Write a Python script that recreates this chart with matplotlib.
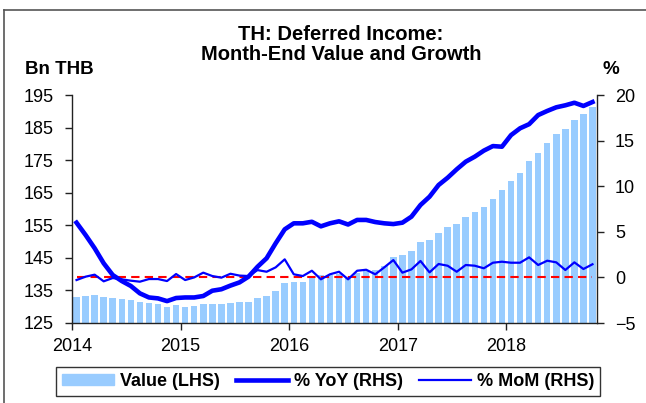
import matplotlib
matplotlib.use("Agg")
import matplotlib.pyplot as plt
import matplotlib.transforms as mtransforms
from matplotlib.lines import Line2D
from matplotlib.patches import Patch

plt.rcParams["font.family"] = ["Liberation Sans", "DejaVu Sans"]

# monthly data, Jan 2014 .. Oct 2018
value_bn = [
    133.1, 133.2, 133.6, 133.0, 132.7, 132.5, 132.1, 131.4, 131.0, 130.7, 130.0, 130.5,
    130.0, 130.2, 130.8, 130.8, 130.8, 131.2, 131.3, 131.5, 132.6, 133.3, 134.8, 137.2,
    137.6, 137.7, 139.0, 139.7, 139.7, 140.0, 139.2, 140.3, 141.1, 141.3, 142.5, 145.2,
    145.9, 147.1, 149.8, 150.5, 152.6, 154.6, 155.3, 157.5, 159.2, 160.7, 163.2, 165.9,
    168.6, 171.1, 174.8, 177.1, 180.4, 183.1, 184.5, 187.3, 189.1, 191.4,
]
yoy_pct = [
    6.0, 4.65, 3.2, 1.55, 0.26, -0.4, -0.94, -1.75, -2.2, -2.3, -2.6, -2.26,
    -2.2, -2.2, -2.04, -1.46, -1.3, -0.9, -0.55, 0.08, 1.17, 2.1, 3.74, 5.27,
    5.93, 5.93, 6.1, 5.6, 5.93, 6.15, 5.8, 6.3, 6.3, 6.07, 5.93, 5.85,
    6.0, 6.66, 7.94, 8.85, 10.13, 10.93, 11.85, 12.69, 13.24, 13.9, 14.4, 14.33,
    15.6, 16.35, 16.8, 17.8, 18.25, 18.65, 18.87, 19.15, 18.8, 19.23,
]
mom_pct = [
    -0.29, 0.08, 0.3, -0.43, -0.07, -0.21, -0.36, -0.47, -0.18, -0.18, -0.4, 0.37,
    -0.29, 0.0, 0.52, 0.15, -0.03, 0.4, 0.2, 0.15, 0.8, 0.62, 1.1, 1.98,
    0.34, 0.15, 0.73, -0.21, 0.34, 0.62, -0.21, 0.73, 0.84, 0.34, 1.1, 1.9,
    0.52, 0.88, 1.8, 0.55, 1.47, 1.28, 0.62, 1.36, 1.28, 1.0, 1.61, 1.72,
    1.61, 1.61, 2.2, 1.36, 1.83, 1.65, 0.81, 1.65, 0.92, 1.44,
]
years = ["2014", "2015", "2016", "2017", "2018"]

x = [i + 0.5 for i in range(len(value_bn))]
bar_col = "#99CCFF"
line_col = "#0000FF"

fig = plt.figure(figsize=(6.46, 4.03), dpi=100)
ax = fig.add_axes([72 / 646, 80 / 403, 525 / 646, 228 / 403])
ax2 = ax.twinx()

ax.bar(x, value_bn, width=0.72, color=bar_col, zorder=1)
ax2.plot(x, [0] * len(x), color="red", lw=1.5, ls=(0, (4, 2.5)), zorder=2)
ax2.plot(x, mom_pct, color=line_col, lw=1.6, zorder=3)
ax2.plot(x, yoy_pct, color=line_col, lw=3.3, zorder=4, solid_joinstyle="round")

ax.set_xlim(0, 58)
ax.set_ylim(125, 195)
ax2.set_ylim(-5, 20)
ax.set_yticks(range(125, 196, 10))
ax2.set_yticks(range(-5, 21, 5))
ax.set_xticks([12 * i for i in range(len(years))])
ax.set_xticklabels(years)
off = mtransforms.ScaledTranslation(6 / 100, 0, fig.dpi_scale_trans)
for lab in ax.get_xticklabels():
    lab.set_transform(lab.get_transform() + off)

for a in (ax, ax2):
    a.spines["top"].set_visible(False)
    for s in a.spines.values():
        s.set_color("#222222")
        s.set_linewidth(1.0)
    a.tick_params(labelsize=13, length=5, width=1.0, colors="#222222",
                  labelcolor="black", pad=8)
ax.spines["right"].set_visible(False)
ax2.spines["left"].set_visible(False)
ax2.spines["bottom"].set_visible(False)
ax.tick_params(axis="x", pad=6)

fig.text(341 / 646, 1 - 35 / 403, "TH: Deferred Income:", ha="center", va="center",
         fontsize=14.5, fontweight="bold")
fig.text(341 / 646, 1 - 55 / 403, "Month-End Value and Growth", ha="center", va="center",
         fontsize=14.5, fontweight="bold")
fig.text(25 / 646, 1 - 69 / 403, "Bn THB", ha="left", va="center",
         fontsize=13.5, fontweight="bold")
fig.text(611 / 646, 1 - 69 / 403, "%", ha="center", va="center",
         fontsize=13.5, fontweight="bold")

handles = [
    Patch(color=bar_col),
    Line2D([], [], color=line_col, lw=3.3),
    Line2D([], [], color=line_col, lw=1.6),
]
leg = fig.legend(handles, ["Value (LHS)", "% YoY (RHS)", "% MoM (RHS)"],
                 loc="center", bbox_to_anchor=(328 / 646, 1 - 381.5 / 403),
                 ncol=3, fancybox=False, edgecolor="black", handlelength=2.9,
                 handleheight=0.5, columnspacing=0.9, handletextpad=0.3,
                 borderpad=0.35, borderaxespad=0.0, prop={"size": 13, "weight": "bold"})
leg.get_frame().set_linewidth(1.0)

# outer chart frame
fig.add_artist(Line2D([4 / 646, 4 / 646], [0, 1 - 10 / 403], color="#555555", lw=1.2))
fig.add_artist(Line2D([4 / 646, 1], [1 - 10 / 403, 1 - 10 / 403], color="#555555", lw=1.2))

fig.savefig("out.png", dpi=100)
